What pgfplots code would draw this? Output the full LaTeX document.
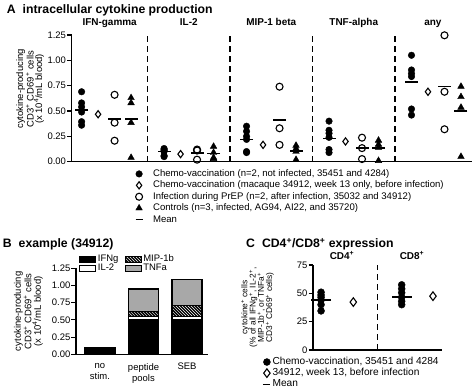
\documentclass[border=0pt]{standalone}
\usepackage{fontspec}
\setmainfont{Liberation Sans}
\usepackage{pgfplots}
\usepackage{pgfplotstable}
\pgfplotsset{compat=1.18}
\usetikzlibrary{patterns}
\definecolor{tnfgray}{RGB}{168,168,168}

% Panel A: x = 5*group + series (1 filled, 2 diamond, 3 open, 4 triangle)
\pgfplotstableread{
x y
1 0.69
1 0.58
1 0.54
1 0.49
1 0.395
1 0.36
6 0.13
6 0.12
6 0.11
6 0.10
6 0.06
6 0.05
11 0.35
11 0.30
11 0.25
11 0.22
11 0.10
11 0.09
16 0.40
16 0.31
16 0.28
16 0.24
16 0.12
16 0.09
21 1.05
21 0.905
21 0.87
21 0.84
21 0.52
21 0.46
}\Afilled
\pgfplotstableread{
x y
2 0.468
7 0.075
12 0.166
17 0.20
22 0.69
}\Adiamond
\pgfplotstableread{
x y
3 0.66
3 0.385
3 0.207
8 0.12
8 0.11
8 0.02
13 0.74
13 0.33
13 0.166
18 0.237
18 0.134
18 0.026
23 1.247
23 0.69
23 0.32
}\Aopen
\pgfplotstableread{
x y
4 0.63
4 0.58
4 0.385
4 0.04
9 0.15
9 0.09
9 0.04
9 0.03
14 0.16
14 0.13
14 0.10
14 0.02
19 0.21
19 0.17
19 0.14
19 0.01
24 0.742
24 0.64
24 0.535
24 0.05
}\Atri
\pgfplotstableread{
x y
1 0.51
6 0.10
11 0.22
16 0.23
21 0.785
3 0.42
8 0.085
13 0.41
18 0.134
23 0.745
4 0.42
9 0.078
14 0.105
19 0.134
24 0.50
}\Amean

% Panel C
\pgfplotstableread{
x y
0.25 51
0.25 48.5
0.25 46.5
0.25 44
0.25 40
0.25 34.5
2.75 57.5
2.75 54
2.75 50.5
2.75 46.5
2.75 43
2.75 40
}\Cfilled
\pgfplotstableread{
x y
1.25 42.3
3.72 47.5
}\Cdiamond
\pgfplotstableread{
x y
0.25 44.2
2.75 46.8
}\Cmean

\pgfplotsset{
  panel/.style={
    scale only axis, anchor=south west, clip=false,
    axis x line*=bottom, axis y line*=left,
    axis line style={line width=1.1bp},
    tick align=outside, major tick length=4.5bp,
    every tick/.style={black, line width=1.1bp},
    /pgf/number format/assume math mode=true,
    tick label style={font=\fontsize{9.5}{10}\selectfont},
    yticklabel style={inner sep=1bp},
  },
  twodec/.style={yticklabel style={/pgf/number format/fixed,
      /pgf/number format/fixed zerofill, /pgf/number format/precision=2}},
}

\begin{document}
\begin{tikzpicture}
\useasboundingbox (0bp,0bp) rectangle (474bp,390bp);

\node[anchor=base west, inner sep=0pt, font=\fontsize{12.3}{14}\selectfont\bfseries]
  at (6.7bp,376bp) {A\hspace{7bp}intracellular cytokine production};
\node[anchor=base west, inner sep=0pt, font=\fontsize{12.3}{14}\selectfont\bfseries]
  at (2.7bp,142bp) {B\hspace{7bp}example (34912)};
\node[anchor=base west, inner sep=0pt, font=\fontsize{12.3}{14}\selectfont\bfseries]
  at (246bp,142bp) {C\hspace{7bp}CD4\textsuperscript{+}/CD8\textsuperscript{+} expression};

% ---------------- Panel A ----------------
\begin{axis}[panel, twodec,
  at={(71.7bp,228.3bp)}, width=400bp, height=126.7bp,
  xmin=0.4, xmax=24.65, ymin=0, ymax=1.25,
  xtick=\empty, ytick={0,0.25,0.5,0.75,1,1.25},
  ylabel={cytokine-producing\\CD3\textsuperscript{+} CD69\textsuperscript{+} cells\\(x 10\textsuperscript{4}/mL blood)},
  ylabel style={align=center, font=\fontsize{9.5}{8.5}\selectfont, at={(axis description cs:-0.104,0.574)}, anchor=center, rotate=0},
  legend image code/.code={\path[draw=none,fill=none] (-6bp,-4bp) rectangle (12bp,5bp); \draw[#1] plot coordinates {(0bp,0bp)};},
  legend style={at={(axis description cs:0.153,-0.05)}, anchor=north west, draw=none, fill=none,
    font=\fontsize{9.6}{11}\selectfont, row sep=0pt, inner sep=0pt,
    nodes={inner xsep=2bp, inner ysep=0.4bp, text height=7.8bp, text depth=2.8bp}},
  legend cell align=left,
]
\addplot[only marks, mark=*, mark size=3.3bp, black] table {\Afilled};
\addlegendentry{Chemo-vaccination (n=2, not infected, 35451 and 4284)}
\addplot[only marks, mark=diamond, mark size=3.6bp, black, mark options={line width=1.1bp}] table {\Adiamond};
\addlegendentry{Chemo-vaccination (macaque 34912, week 13 only, before infection)}
\addplot[only marks, mark=o, mark size=3.5bp, black, mark options={line width=1.1bp}] table {\Aopen};
\addlegendentry{Infection during PrEP (n=2, after infection, 35032 and 34912)}
\addplot[only marks, mark=triangle*, mark size=3.8bp, black] table {\Atri};
\addlegendentry{Controls (n=3, infected, AG94, AI22, and 35720)}
\addplot[only marks, mark=-, mark size=6.5bp, black, mark options={line width=1.3bp},
  legend image code/.code={\path[draw=none,fill=none] (-6bp,-4bp) rectangle (12bp,5bp); \draw[line width=1.3bp] (-3.5bp,0bp) -- (3.5bp,0bp);}] table {\Amean};
\addlegendentry{Mean}
\addplot[forget plot, black, line width=1.2bp, dash pattern=on 6bp off 4bp] coordinates {(5,0) (5,1.25)};
\addplot[forget plot, black, line width=1.2bp, dash pattern=on 6bp off 4bp] coordinates {(10,0) (10,1.25)};
\addplot[forget plot, black, line width=1.2bp, dash pattern=on 6bp off 4bp] coordinates {(15,0) (15,1.25)};
\addplot[forget plot, black, line width=1.2bp, dash pattern=on 6bp off 4bp] coordinates {(20,0) (20,1.25)};
\node[anchor=base, font=\fontsize{10}{10}\selectfont\bfseries] at (axis cs:2.7,1.25) [yshift=9bp] {IFN-gamma};
\node[anchor=base, font=\fontsize{10}{10}\selectfont\bfseries] at (axis cs:7.5,1.25) [yshift=9bp] {IL-2};
\node[anchor=base, font=\fontsize{10}{10}\selectfont\bfseries] at (axis cs:12.5,1.25) [yshift=9bp] {MIP-1 beta};
\node[anchor=base, font=\fontsize{10}{10}\selectfont\bfseries] at (axis cs:17.5,1.25) [yshift=9bp] {TNF-alpha};
\node[anchor=base, font=\fontsize{10}{10}\selectfont\bfseries] at (axis cs:22.3,1.25) [yshift=9bp] {any};
\end{axis}

% ---------------- Panel B ----------------
\begin{axis}[panel, twodec,
  at={(76bp,35.7bp)}, width=132bp, height=86bp,
  ybar stacked, bar width=30bp,
  xmin=-0.55, xmax=2.48, ymin=0, ymax=1.25,
  xtick={0,1,2}, xticklabels={{no\\stim.},{peptide\\pools},{SEB}},
  xticklabel style={align=center, font=\fontsize{9.5}{11}\selectfont, yshift=-1bp},
  x tick style={draw=none},
  ytick={0,0.25,0.5,0.75,1,1.25},
  ylabel={cytokine-producing\\CD3\textsuperscript{+} CD69\textsuperscript{+} cells\\(x 10\textsuperscript{4}/mL blood)},
  ylabel style={align=center, font=\fontsize{9.5}{8.3}\selectfont, at={(axis description cs:-0.36,0.5)}, anchor=center, rotate=0},
  every axis plot/.append style={draw=black, line width=1.2bp},
  legend image code/.code={\draw[#1, line width=0.9bp] (0bp,-3.2bp) rectangle (16bp,3.3bp);},
  legend columns=2, transpose legend,
  legend style={at={(axis description cs:0.025,1.155)}, anchor=north west, draw=none, fill=none,
    font=\fontsize{9.5}{10}\selectfont, row sep=0pt, inner sep=0pt,
    /tikz/every even column/.append style={column sep=5bp},
    nodes={inner xsep=1.5bp, inner ysep=0.2bp, text height=6.6bp, text depth=1.8bp}},
  legend cell align=left,
]
\addplot[fill=black] coordinates {(0,0.10) (1,0.50) (2,0.50)};
\addlegendentry{IFNg}
\addplot[fill=white] coordinates {(0,0) (1,0.055) (2,0.055)};
\addlegendentry{IL-2}
\addplot[fill=black, postaction={pattern=north west lines, pattern color=white}] coordinates {(0,0) (1,0.07) (2,0.15)};
\addlegendentry{MIP-1b}
\addplot[fill=tnfgray] coordinates {(0,0) (1,0.325) (2,0.385)};
\addlegendentry{TNFa}
\end{axis}

% ---------------- Panel C ----------------
\begin{axis}[panel,
  at={(313bp,40bp)}, width=129bp, height=85bp,
  xmin=0, xmax=4, ymin=0, ymax=75,
  xtick=\empty, ytick={0,25,50,75},
  ylabel={cytokine\textsuperscript{+} cells\\(\% of all IFNg\textsuperscript{+}, IL-2\textsuperscript{+},\\MIP-1b\textsuperscript{+}, or TNFa\textsuperscript{+}\\CD3\textsuperscript{+} CD69\textsuperscript{+} cells)},
  ylabel style={align=center, font=\fontsize{8.4}{8.3}\selectfont, at={(axis description cs:-0.43,0.5)}, anchor=center, rotate=0},
  legend image code/.code={\path[draw=none,fill=none] (-4bp,-4bp) rectangle (3bp,5bp); \draw[#1] plot coordinates {(0bp,0bp)};},
  legend style={at={(axis description cs:-0.395,-0.074)}, anchor=north west, draw=none, fill=none,
    font=\fontsize{10.2}{11}\selectfont, row sep=0pt, inner sep=0pt,
    nodes={inner xsep=2bp, inner ysep=0.4bp, text height=7.7bp, text depth=2.6bp}},
  legend cell align=left,
]
\addplot[only marks, mark=*, mark size=3.5bp, black] table {\Cfilled};
\addlegendentry{Chemo-vaccination, 35451 and 4284}
\addplot[only marks, mark=diamond, mark size=4.3bp, black, mark options={line width=1.1bp}] table {\Cdiamond};
\addlegendentry{34912, week 13, before infection}
\addplot[only marks, mark=-, mark size=10bp, black, mark options={line width=1.3bp},
  legend image code/.code={\path[draw=none,fill=none] (-4bp,-4bp) rectangle (3bp,5bp); \draw[line width=1.3bp] (-4bp,0bp) -- (3bp,0bp);}] table {\Cmean};
\addlegendentry{Mean}
\addplot[forget plot, black, line width=1.2bp, dash pattern=on 6bp off 4bp] coordinates {(2,0) (2,75)};
\node[anchor=base, font=\fontsize{10}{10}\selectfont\bfseries] at (axis cs:0.9,75) [yshift=6bp] {CD4\textsuperscript{+}};
\node[anchor=base, font=\fontsize{10}{10}\selectfont\bfseries] at (axis cs:3.07,75) [yshift=6bp] {CD8\textsuperscript{+}};
\end{axis}
\end{tikzpicture}
\end{document}
